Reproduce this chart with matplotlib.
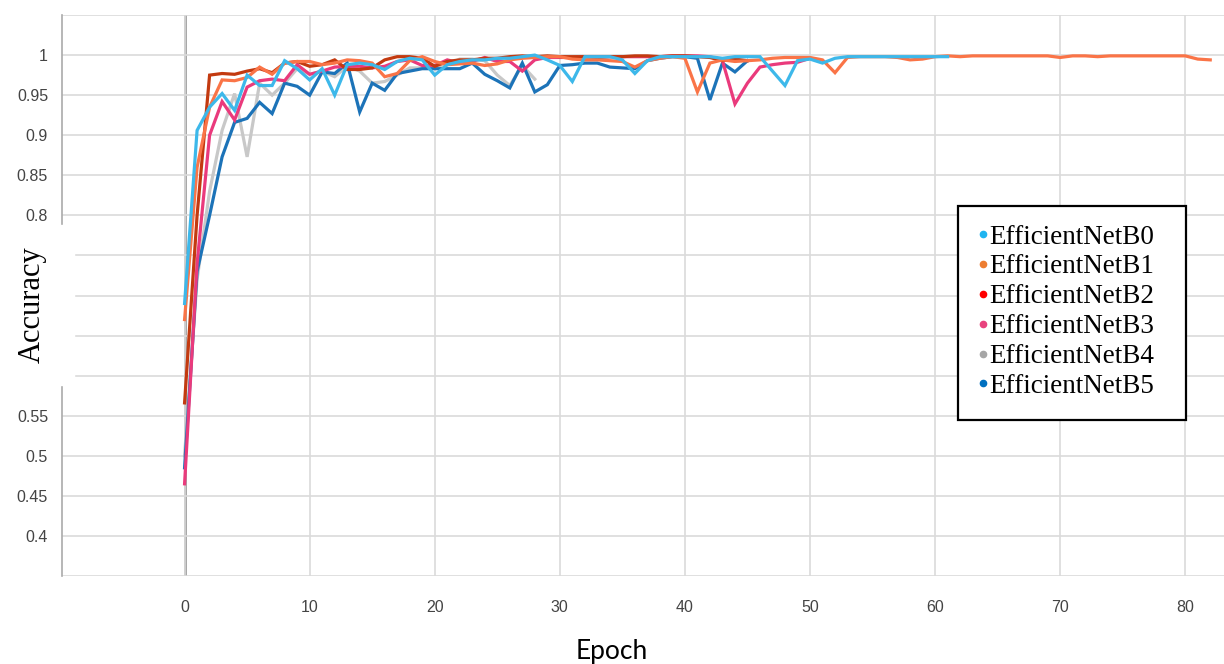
import numpy as np
import matplotlib
matplotlib.use('Agg')
import matplotlib.pyplot as plt
from matplotlib.lines import Line2D
from matplotlib.patches import Rectangle

# Accuracy per epoch
acc_b0 = [0.69, 0.906, 0.935, 0.952, 0.931, 0.975, 0.962, 0.962, 0.993, 0.983,
          0.969, 0.983, 0.950, 0.988, 0.990, 0.988, 0.982, 0.992, 0.996, 0.994,
          0.975, 0.988, 0.992, 0.994, 0.994, 0.996, 0.996, 0.998, 1.0, 0.994,
          0.987, 0.967, 0.998, 0.998, 0.998, 0.994, 0.977, 0.993, 0.998, 0.998,
          0.998, 0.998, 0.998, 0.996, 0.998, 0.998, 0.998, 0.980, 0.962, 0.993,
          0.995, 0.990, 0.996, 0.998, 0.998, 0.998, 0.998, 0.998, 0.998, 0.998,
          0.998, 0.998]
acc_b1 = [0.67, 0.86, 0.935, 0.969, 0.968, 0.972, 0.985, 0.976, 0.990, 0.992,
          0.992, 0.988, 0.990, 0.994, 0.993, 0.990, 0.973, 0.977, 0.993, 0.998,
          0.992, 0.988, 0.989, 0.990, 0.987, 0.989, 0.994, 0.996, 0.997, 0.998,
          0.998, 0.995, 0.994, 0.994, 0.993, 0.992, 0.985, 0.993, 0.996, 0.998,
          0.996, 0.954, 0.990, 0.994, 0.992, 0.993, 0.994, 0.996, 0.997, 0.997,
          0.997, 0.994, 0.978, 0.997, 0.998, 0.998, 0.998, 0.997, 0.994, 0.995,
          0.998, 0.999, 0.998, 0.999, 0.999, 0.999, 0.999, 0.999, 0.999, 0.999,
          0.997, 0.999, 0.999, 0.998, 0.999, 0.999, 0.999, 0.999, 0.999, 0.999,
          0.999, 0.995, 0.994]
acc_b2 = [0.566, 0.80, 0.975, 0.977, 0.976, 0.980, 0.983, 0.978, 0.990, 0.992,
          0.986, 0.988, 0.994, 0.982, 0.982, 0.984, 0.994, 0.998, 0.998, 0.996,
          0.986, 0.992, 0.994, 0.994, 0.996, 0.996, 0.998, 0.999, 0.998, 0.999,
          0.998, 0.998, 0.998, 0.997, 0.998, 0.998, 0.999, 0.999, 0.998, 0.999,
          0.999, 0.998, 0.997, 0.993, 0.995, 0.993]
acc_b3 = [0.465, 0.74, 0.900, 0.942, 0.919, 0.960, 0.968, 0.970, 0.968, 0.988,
          0.976, 0.980, 0.985, 0.986, 0.986, 0.984, 0.986, 0.992, 0.994, 0.987,
          0.987, 0.994, 0.990, 0.992, 0.997, 0.992, 0.992, 0.980, 0.994, 0.997,
          0.997, 0.997, 0.998, 0.998, 0.998, 0.998, 0.998, 0.998, 0.998, 0.999,
          0.999, 0.999, 0.998, 0.993, 0.939, 0.965, 0.985, 0.988, 0.990, 0.991,
          0.996]
acc_b4 = [0.50, 0.72, 0.83, 0.906, 0.952, 0.873, 0.965, 0.950, 0.965, 0.983,
          0.976, 0.980, 0.973, 0.986, 0.980, 0.965, 0.967, 0.975, 0.984, 0.984,
          0.986, 0.988, 0.995, 0.995, 0.993, 0.975, 0.962, 0.987, 0.970]
acc_b5 = [0.485, 0.73, 0.80, 0.873, 0.916, 0.921, 0.941, 0.927, 0.965, 0.961,
          0.950, 0.979, 0.977, 0.990, 0.929, 0.965, 0.956, 0.977, 0.980, 0.983,
          0.983, 0.983, 0.983, 0.990, 0.976, 0.968, 0.959, 0.990, 0.954, 0.963,
          0.987, 0.988, 0.990, 0.990, 0.985, 0.984, 0.983, 0.993, 0.996, 0.998,
          0.998, 0.996, 0.944, 0.990, 0.979, 0.993]

names = ['EfficientNetB0', 'EfficientNetB1', 'EfficientNetB2',
         'EfficientNetB3', 'EfficientNetB4', 'EfficientNetB5']
series = [acc_b0, acc_b1, acc_b2, acc_b3, acc_b4, acc_b5]
line_colors = ['#3db8ea', '#fa7447', '#c33a10', '#ea3a7c', '#c8c8c8', '#1c73b8']
dot_colors = ['#1fb4f0', '#ed7d31', '#ff0000', '#e8437e', '#a6a6a6', '#0070c0']

y_ticks = np.round(np.arange(0.35, 1.051, 0.05), 2)
y_labels = ['', '0.4', '0.45', '0.5', '0.55', '', '', '', '',
            '0.8', '0.85', '0.9', '0.95', '1', '']
x_ticks = np.arange(0, 81, 10)

fig = plt.figure(figsize=(12.24, 6.64), dpi=100)
ax = fig.add_axes([62/1224, 1 - 576/664, 1 - 62/1224, (576 - 15)/664])

# draw grey first so the coloured lines sit on top
order = [4, 5, 3, 2, 1, 0]
for i in order:
    ep = np.arange(len(series[i]))
    ax.plot(ep, series[i], color=line_colors[i], lw=2.3, zorder=3 + order.index(i),
            solid_joinstyle='miter')

ax.set_xlim(-9.8, 83.1)
ax.set_ylim(0.35, 1.05)
ax.set_yticks(y_ticks)
ax.set_yticklabels(y_labels)
ax.set_xticks(x_ticks)
ax.tick_params(axis='both', length=0, labelsize=11.5, labelcolor='#444444', pad=10)
ax.tick_params(axis='x', pad=17)
for lab in ax.get_xticklabels() + ax.get_yticklabels():
    lab.set_family('Liberation Sans')

ax.grid(True, color='#dadada', lw=1.2, zorder=0)
ax.axvline(0, color='#8c8c8c', lw=1.8, zorder=1)
for s in ['top', 'right', 'bottom']:
    ax.spines[s].set_visible(False)
ax.spines['left'].set_color('#aaaaaa')
ax.spines['left'].set_linewidth(1.2)

# white patch behind the y label, hides the middle ticks and spine
fig.patches.append(Rectangle((0, 1 - 385/664), 74/1224, 160/664,
                             transform=fig.transFigure, color='white', zorder=5))
fig.text(32/1224, 1 - 305/664, 'Accuracy', rotation=90, ha='center', va='center',
         family='Liberation Serif', fontsize=22, zorder=6)
fig.text(612/1224, 1 - 651/664, 'Epoch', ha='center', va='center',
         family='Lato', fontsize=19)

# legend box drawn separately so its size matches the reference
ax.add_patch(Rectangle((958/1224, 1 - 420/664), 228/1224, 214/664,
                       transform=fig.transFigure, facecolor='white',
                       edgecolor='black', lw=1.6, zorder=19, clip_on=False))
handles = [Line2D([], [], ls='none', marker='o', ms=4.5, color=c) for c in dot_colors]
leg = ax.legend(handles, names, loc='upper left',
                bbox_to_anchor=(978.5/1224, 1 - 224.5/664), bbox_transform=fig.transFigure,
                prop={'family': 'Liberation Serif', 'size': 19.5},
                handlelength=0.35, handletextpad=0.05, labelspacing=0.18,
                borderpad=0, borderaxespad=0, frameon=False)
leg.set_zorder(20)

plt.savefig('out.png', dpi=100)
